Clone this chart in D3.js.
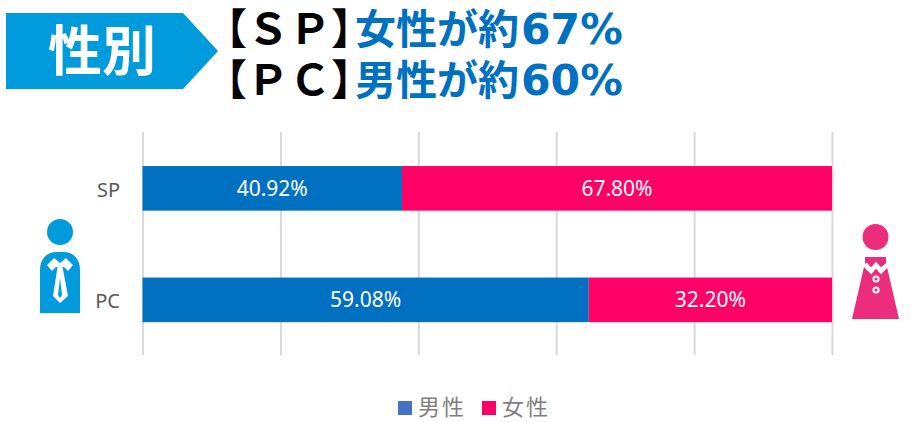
<!DOCTYPE html>
<html lang="ja">
<head>
<meta charset="utf-8">
<script src="https://cdn.jsdelivr.net/npm/d3@7"></script>
<style>
  html, body { margin: 0; padding: 0; background: #fff; }
  svg { display: block; }
  text { font-family: "Noto Sans", "Noto Sans CJK JP", sans-serif; }
  .jp { font-family: "Noto Sans CJK JP", sans-serif; }
</style>
</head>
<body>
<div id="chart"></div>
<script>
const categories = ["SP", "PC"];
const seriesNames = ["男性", "女性"];
const male = [40.92, 59.08];
const female = [67.80, 32.20];
const xTicks = [0, 0.2, 0.4, 0.6, 0.8, 1];
const badgeText = "性別";
const headlines = [
  { tag: "【ＳＰ】", text: "女性が約", pct: "67%" },
  { tag: "【ＰＣ】", text: "男性が約", pct: "60%" },
];

const width = 922;
const height = 422;
const colors = { 男性: "#0070c0", 女性: "#ff0066" };
const legendColors = { 男性: "#4472c4", 女性: "#ff0066" };

const svg = d3
  .select("#chart")
  .append("svg")
  .attr("width", width)
  .attr("height", height)
  .attr("viewBox", `0 0 ${width} ${height}`);

// Header arrow and headline
svg
  .append("path")
  .attr("d", "M6,13H183L218,51L183,89H6Z")
  .attr("fill", "#009bdc");

svg
  .append("text")
  .attr("class", "jp")
  .attr("x", 102)
  .attr("y", 71)
  .attr("text-anchor", "middle")
  .attr("fill", "#fff")
  .style("font-size", "54px")
  .style("font-weight", 700)
  .text(badgeText);

const headline = svg
  .selectAll(".headline")
  .data(headlines)
  .enter()
  .append("text")
  .attr("class", "headline jp")
  .attr("y", (d, i) => 44 + i * 51)
  .style("font-size", "41px")
  .style("font-weight", 700);
headline
  .append("tspan")
  .attr("x", 205)
  .attr("fill", "#000")
  .style("font-size", "42px")
  .text((d) => d.tag);
headline.append("tspan").attr("x", 355).attr("fill", "#0070c0").text((d) => d.text);
headline
  .append("tspan")
  .attr("x", 521)
  .attr("fill", "#0070c0")
  .style("font-family", '"DejaVu Sans", sans-serif')
  .style("font-size", "42.5px")
  .text((d) => d.pct);

// Scales: 100% stacked bars
const x = d3.scaleLinear().domain([0, 1]).range([142.5, 832]);
const y = d3
  .scaleBand()
  .domain(categories)
  .range([132.6, 355.6])
  .paddingInner(0.6)
  .paddingOuter(0.3);

const rows = categories.map((c, i) => ({ category: c, 男性: male[i], 女性: female[i] }));
const stacked = d3.stack().keys(seriesNames).offset(d3.stackOffsetExpand)(rows);

// Gridlines
const grid = svg
  .append("g")
  .attr("transform", "translate(0,355)")
  .call(d3.axisBottom(x).tickValues(xTicks).tickSize(-223).tickFormat(""));
grid.select(".domain").remove();
grid.selectAll("line").attr("stroke", "#d9d9d9").attr("stroke-width", 2);

// Category labels
const yAxis = svg
  .append("g")
  .attr("transform", "translate(142,0)")
  .call(d3.axisLeft(y).tickSize(0).tickPadding(22));
yAxis.select(".domain").remove();
yAxis
  .selectAll("text")
  .attr("fill", "#595959")
  .attr("dy", "0.42em")
  .style("font-size", "20px")
  .style("font-family", '"Noto Sans", sans-serif');

// Bars
const layer = svg
  .selectAll(".layer")
  .data(stacked)
  .enter()
  .append("g")
  .attr("class", "layer");

layer
  .selectAll("rect")
  .data((s) => s.map((d) => ({ key: s.key, d })))
  .enter()
  .append("rect")
  .attr("x", (r) => x(r.d[0]))
  .attr("y", (r) => y(r.d.data.category))
  .attr("width", (r) => x(r.d[1]) - x(r.d[0]))
  .attr("height", y.bandwidth())
  .attr("fill", (r) => colors[r.key]);

layer
  .selectAll("text")
  .data((s) => s.map((d) => ({ key: s.key, d })))
  .enter()
  .append("text")
  .attr("x", (r) => (x(r.d[0]) + x(r.d[1])) / 2)
  .attr("y", (r) => y(r.d.data.category) + y.bandwidth() / 2)
  .attr("dy", "0.36em")
  .attr("text-anchor", "middle")
  .attr("fill", "#fff")
  .style("font-size", "21px")
  .text((r) => r.d.data[r.key].toFixed(2) + "%");

// Legend
const legend = svg
  .selectAll(".legend")
  .data(seriesNames)
  .enter()
  .append("g")
  .attr("class", "legend")
  .attr("transform", (d, i) => `translate(${398 + i * 84},401)`);

legend
  .append("rect")
  .attr("width", 14)
  .attr("height", 14)
  .attr("fill", (d) => legendColors[d]);

legend
  .append("text")
  .attr("class", "jp")
  .attr("x", 20)
  .attr("y", 14)
  .attr("fill", "#7f7f7f")
  .style("font-size", "22px")
  .style("letter-spacing", "2px")
  .text((d) => d);

// Man icon
const man = svg.append("g");
man.append("circle").attr("cx", 60).attr("cy", 232).attr("r", 13).attr("fill", "#009bdc");
man
  .append("path")
  .attr("d", "M40,313V270C40,258 48,252 56,252H64C72,252 80,258 80,270V313Z")
  .attr("fill", "#009bdc");
man
  .append("path")
  .attr("d", "M47,265L54,258L60,263L66,258L73,265L68,271L64,267H62.5L68,296L60,303L53,296L57.5,267H56L52,271Z")
  .attr("fill", "#fff");
man
  .append("path")
  .attr("d", "M60,278L62,295L60,298L58,295Z")
  .attr("fill", "#009bdc");

// Woman icon
const woman = svg.append("g");
const pink = "#ec2d7c";
woman.append("circle").attr("cx", 875.5).attr("cy", 237).attr("r", 13).attr("fill", pink);
woman.append("path").attr("d", "M865,257H886V264L876,270L865,264Z").attr("fill", pink);
woman.append("path").attr("d", "M864,267L871,274L876,268L881,274L887,267L899,319H852Z").attr("fill", pink);
woman
  .append("path")
  .attr("d", "M865,264L871,271L876,265L881,271L887,265")
  .attr("fill", "none")
  .attr("stroke", "#fff")
  .attr("stroke-width", 4.5);
woman
  .selectAll(".button")
  .data([279, 290])
  .enter()
  .append("circle")
  .attr("cx", 876)
  .attr("cy", (d) => d)
  .attr("r", 2.6)
  .attr("fill", pink)
  .attr("stroke", "#fff")
  .attr("stroke-width", 2);
</script>
</body>
</html>
